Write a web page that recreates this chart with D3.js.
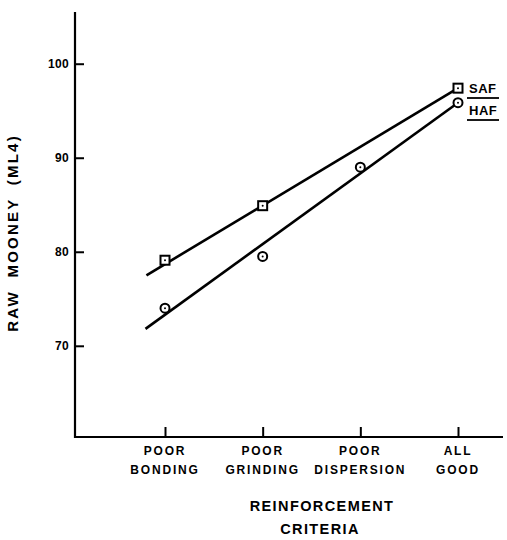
<!DOCTYPE html>
<html>
<head>
<meta charset="utf-8">
<script src="https://cdn.jsdelivr.net/npm/d3@7"></script>
<style>
  body { margin: 0; background: #fff; }
  text { font-family: "Liberation Sans", Arial, sans-serif; font-weight: bold; fill: #000; }
</style>
</head>
<body>
<svg id="chart" width="507" height="540"></svg>
<script>
// categories (two-line labels)
const categories = [
  ['POOR', 'BONDING'],
  ['POOR', 'GRINDING'],
  ['POOR', 'DISPERSION'],
  ['ALL', 'GOOD']
]
const yTicks = [70, 80, 90, 100]

// measured points (category index, raw mooney)
const safPoints = [[0, 79.1], [1, 84.9], [3, 97.4]]
const hafPoints = [[0, 74.0], [1, 79.5], [2, 89.0], [3, 95.85]]

// fitted lines
const safLine = [[-0.19, 77.5], [3, 97.4]]
const hafLine = [[-0.2, 71.8], [3, 95.85]]

const svg = d3.select('#chart')

const x = d3.scaleLinear().domain([0, 3]).range([165, 458])
const y = d3.scaleLinear().domain([60.3, 105.5]).range([437, 12])

// axes
const yAxis = svg.append('g').attr('transform', 'translate(75,0)')
  .call(d3.axisRight(y).tickValues(yTicks).tickSize(9).tickFormat(''))
yAxis.select('.domain').remove()
yAxis.selectAll('line').attr('stroke', '#000').attr('stroke-width', 2)
yAxis.selectAll('.tick').append('text')
  .attr('x', -6).attr('dy', '0.35em')
  .attr('text-anchor', 'end')
  .style('font-size', '12px')
  .style('letter-spacing', '0.3px')
  .text((d) => d)

svg.append('line')
  .attr('x1', 75).attr('x2', 75).attr('y1', 12).attr('y2', 438)
  .attr('stroke', '#000').attr('stroke-width', 2.2)
svg.append('line')
  .attr('x1', 74).attr('x2', 503).attr('y1', 437).attr('y2', 437)
  .attr('stroke', '#000').attr('stroke-width', 2.2)

const xAxis = svg.append('g').attr('transform', 'translate(0,437)')
  .call(d3.axisTop(x).tickValues([0, 1, 2, 3]).tickSize(10).tickFormat(''))
xAxis.select('.domain').remove()
xAxis.selectAll('line').attr('stroke', '#000').attr('stroke-width', 2)

const xl = svg.append('g')
categories.forEach((c, i) => {
  c.forEach((s, j) => {
    xl.append('text')
      .attr('x', x(i)).attr('y', 455 + j * 19)
      .attr('text-anchor', 'middle')
      .style('font-size', '12px')
      .style('letter-spacing', '1.8px')
      .text(s)
  })
})

// axis titles
svg.append('text')
  .attr('transform', 'translate(18,233) rotate(-90)')
  .attr('text-anchor', 'middle')
  .style('font-size', '15px')
  .style('letter-spacing', '2.2px')
  .style('white-space', 'pre')
  .text('RAW  MOONEY  (ML4)')

svg.append('text')
  .attr('x', 322).attr('y', 511)
  .attr('text-anchor', 'middle')
  .style('font-size', '14.5px')
  .style('letter-spacing', '1.4px')
  .text('REINFORCEMENT')
svg.append('text')
  .attr('x', 320).attr('y', 534)
  .attr('text-anchor', 'middle')
  .style('font-size', '14.5px')
  .style('letter-spacing', '1.4px')
  .text('CRITERIA')

// fitted lines
const line = d3.line().x((d) => x(d[0])).y((d) => y(d[1]))
;[safLine, hafLine].forEach((l) => {
  svg.append('path')
    .attr('d', line(l))
    .attr('fill', 'none')
    .attr('stroke', '#000')
    .attr('stroke-width', 2.6)
})

// markers
svg.selectAll('.saf')
  .data(safPoints)
  .enter()
  .append('rect')
  .attr('class', 'saf')
  .attr('x', (d) => x(d[0]) - 4.5)
  .attr('y', (d) => y(d[1]) - 4.5)
  .attr('width', 9).attr('height', 9)
  .attr('fill', '#fff').attr('stroke', '#000').attr('stroke-width', 2)

svg.selectAll('.haf')
  .data(hafPoints)
  .enter()
  .append('circle')
  .attr('class', 'haf')
  .attr('cx', (d) => x(d[0]))
  .attr('cy', (d) => y(d[1]))
  .attr('r', 4.5)
  .attr('fill', '#fff').attr('stroke', '#000').attr('stroke-width', 2)

svg.selectAll('.dot')
  .data(safPoints.concat(hafPoints))
  .enter()
  .append('circle')
  .attr('class', 'dot')
  .attr('cx', (d) => x(d[0]))
  .attr('cy', (d) => y(d[1]))
  .attr('r', 1)
  .attr('fill', '#000')

// series labels
const labels = [['SAF', 93, 98], ['HAF', 115, 120]]
labels.forEach((l) => {
  svg.append('text')
    .attr('x', 469).attr('y', l[1])
    .style('font-size', '13px')
    .style('letter-spacing', '0.5px')
    .text(l[0])
  svg.append('line')
    .attr('x1', 467).attr('x2', 499).attr('y1', l[2]).attr('y2', l[2])
    .attr('stroke', '#000').attr('stroke-width', 1.8)
})
</script>
</body>
</html>
